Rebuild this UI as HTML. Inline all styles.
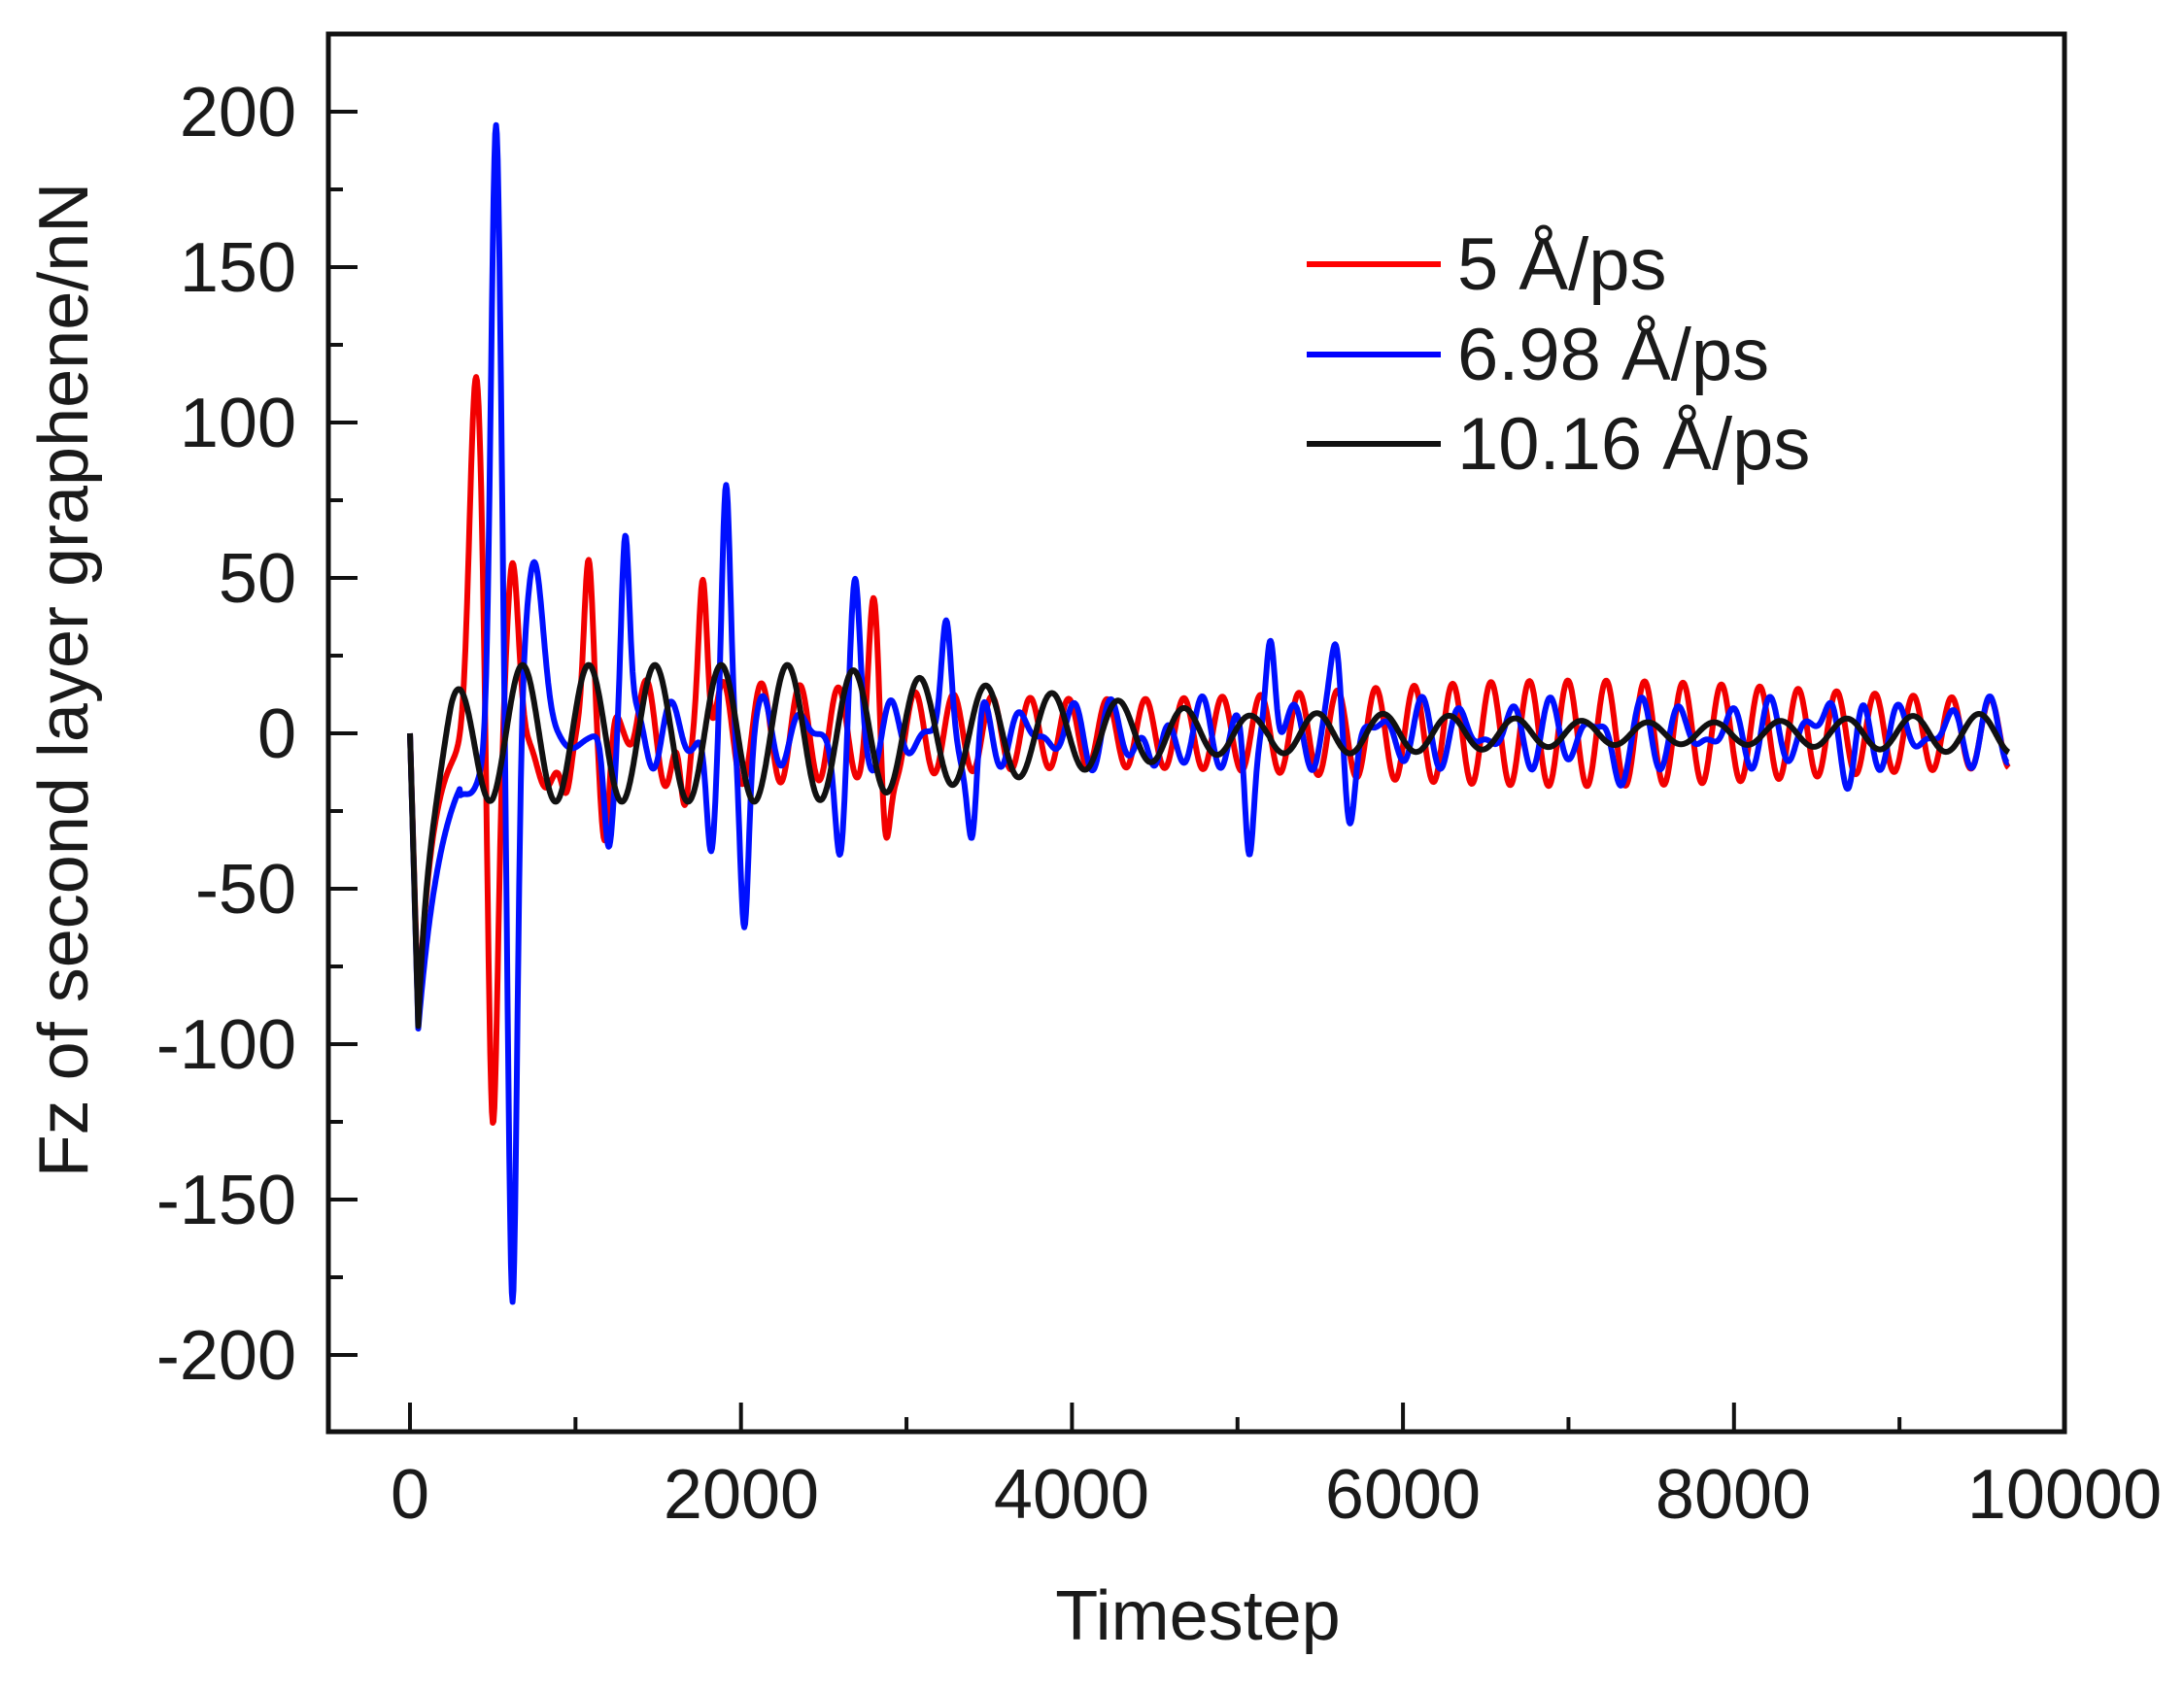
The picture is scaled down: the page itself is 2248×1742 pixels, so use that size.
<!DOCTYPE html>
<html><head><meta charset="utf-8"><style>
html,body{margin:0;padding:0;background:#fff}
svg{display:block}
text{font-family:"Liberation Sans",Arial,sans-serif;fill:#1a1a1a}
</style></head><body>
<svg id="s" width="2248" height="1742" viewBox="0 0 2248 1742" xmlns="http://www.w3.org/2000/svg">
<rect width="2248" height="1742" fill="#fff"/>
<g id="series" fill="none" stroke-width="6" stroke-linejoin="round"></g>
<rect x="338" y="35" width="1787" height="1439" fill="none" stroke="#111" stroke-width="5"/>
<g id="ticks" stroke="#111" stroke-width="4"></g>
<g font-size="72" text-anchor="end">
<text x="305" y="140">200</text>
<text x="305" y="300">150</text>
<text x="305" y="460">100</text>
<text x="305" y="620">50</text>
<text x="305" y="780">0</text>
<text x="305" y="940">-50</text>
<text x="305" y="1100">-100</text>
<text x="305" y="1260">-150</text>
<text x="305" y="1420">-200</text>
</g>
<g font-size="72" text-anchor="middle">
<text x="422" y="1563">0</text>
<text x="763" y="1563">2000</text>
<text x="1103" y="1563">4000</text>
<text x="1444" y="1563">6000</text>
<text x="1784" y="1563">8000</text>
<text x="2125" y="1563">10000</text>
<text x="1233" y="1688">Timestep</text>
<text transform="translate(90,700) rotate(-90)">Fz of second layer graphene/nN</text>
</g>
<g stroke-width="6">
<line x1="1345" y1="272" x2="1483" y2="272" stroke="#f00"/>
<line x1="1345" y1="365" x2="1483" y2="365" stroke="#00f"/>
<line x1="1345" y1="457" x2="1483" y2="457" stroke="#111"/>
</g>
<g font-size="76">
<text x="1500" y="298">5 Å/ps</text>
<text x="1500" y="391">6.98 Å/ps</text>
<text x="1500" y="483">10.16 Å/ps</text>
</g>
</svg>
<script>
const X=t=>422+t*0.17035, Y=v=>755-v*3.2;
const ns="http://www.w3.org/2000/svg";
let tk=document.getElementById('ticks'),h='';
for(let t=0;t<=10000;t+=1000){let x=X(t),L=(t%2000==0)?30:15;h+=`<line x1="${x}" y1="1474" x2="${x}" y2="${1474-L}"/>`;}
for(let v=-200;v<=200;v+=25){let y=Y(v),L=(v%50==0)?30:15;h+=`<line x1="338" y1="${y}" x2="${338+L}" y2="${y}"/>`;}
tk.innerHTML=h;
const G=(t,c,s,a)=>a*Math.exp(-((t-c)*(t-c))/(2*s*s));
function tr(t,D,tau){return t<50?-D*t/50:-D*Math.exp(-(t-50)/tau);}
function red(t){
 let v=tr(t,90,90);
 [[400,117,40],[500,-130,30],[620,55,35],[800,-15,50],[950,-28,35],[1080,72,30],[1180,-50,30],[1300,15,40],[1660,-40,30],[1770,66,28],[2800,33,30],[2870,-36,28]].forEach(p=>v+=G(t,p[0],p[2],p[1]));
 let env=t<700?0:Math.min(1,(t-700)/400);
 let A=14+3*Math.sin(t/900);
 v+=env*A*Math.sin(2*Math.PI*t/232+0.6);
 return v;}
function blue(t){
 let v=tr(t,95,150);
 if(t>300&&t<480)v+=G(t,380,50,-8);
 [[520,200,30],[620,-185,27],[750,56,55],[1000,-5,60],[1200,-35,28],[1300,63,25],[1820,-38,28],[1910,74,25],[2020,-52,25],[2600,-35,30],[2690,40,28],[3240,31,28],[3400,-32,28],[5070,-40,28],[5200,33,28],[5600,22,30],[5680,-22,30],[4500,-12,40],[7300,-10,40],[8600,10,40],[8700,-14,40]].forEach(p=>v+=G(t,p[0],p[2],p[1]));
 let env=t<900?0:Math.min(1,(t-900)/600);
 v+=env*(7*Math.sin(2*Math.PI*t/265+1.3)+5*Math.sin(2*Math.PI*t/190+0.2));
 return v;}
function black(t){
 let v=tr(t,92,70);
 let A;
 if(t<2400)A=22;else if(t<4200)A=22-(t-2400)/1800*11;else if(t<5200)A=11-(t-4200)/1000*6;else A=5+1.5*Math.sin(t/700);
 if(t<500)A=A*(0.5+0.5*t/500);
 let ramp=Math.min(1,t/250);
 v+=ramp*A*Math.cos(2*Math.PI*(t-280)/400);
 return v;}
let sg=document.getElementById('series');
[[red,'#f20000'],[blue,'#0010ff'],[black,'#111']].forEach(([f,c])=>{
 let d='';for(let t=0;t<=9660;t+=5){d+=(t?'L':'M')+X(t).toFixed(1)+','+Y(f(t)).toFixed(1);}
 let p=document.createElementNS(ns,'path');p.setAttribute('d',d);p.setAttribute('stroke',c);sg.appendChild(p);
});
</script>
</body></html>
